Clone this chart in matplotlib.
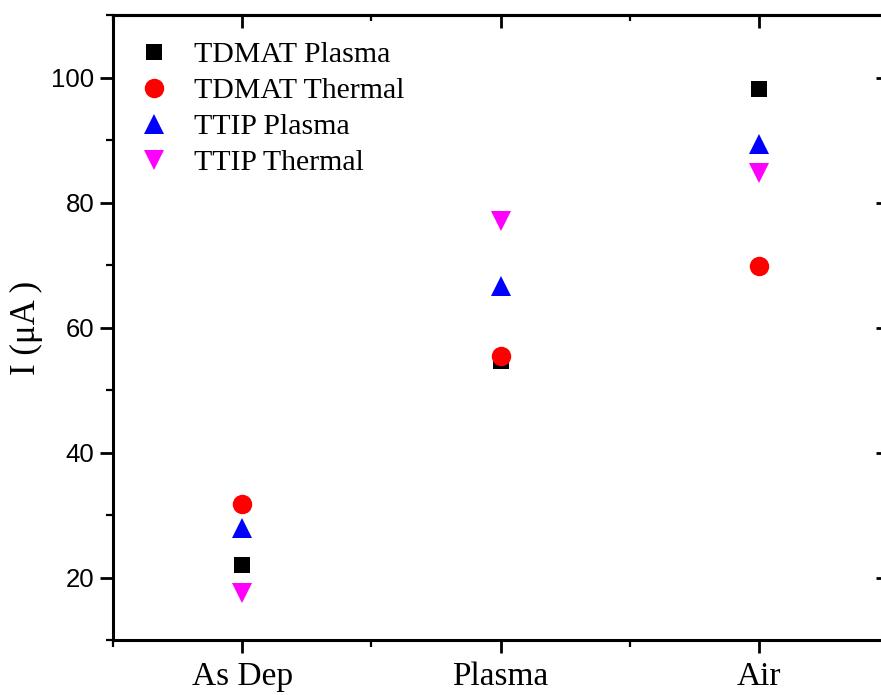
import numpy as np
import matplotlib.pyplot as plt
from matplotlib.ticker import MultipleLocator
plt.switch_backend('agg')

# data
categories = ['As Dep', 'Plasma', 'Air']
tdmat_plasma = [22.0, 54.6, 98.1]
tdmat_thermal = [31.7, 55.5, 69.8]
ttip_plasma = [28.0, 66.6, 89.3]
ttip_thermal = [17.6, 77.1, 84.8]

series = [
    ('TDMAT Plasma', tdmat_plasma, 's', 'black', 12),
    ('TDMAT Thermal', tdmat_thermal, 'o', 'red', 14),
    ('TTIP Plasma', ttip_plasma, '^', 'blue', 15),
    ('TTIP Thermal', ttip_thermal, 'v', 'magenta', 15),
]

serif = ['Liberation Serif', 'DejaVu Serif']
sans = ['Liberation Sans', 'DejaVu Sans']

fig = plt.figure(figsize=(8.81, 6.95), dpi=100)
ax = fig.add_axes([113/881, 55/695, (888-113)/881, (640-15)/695])

x = np.arange(len(categories))
for name, vals, mk, col, ms in series:
    ax.plot(x, vals, linestyle='none', marker=mk, color=col, markersize=ms,
            markeredgewidth=0, label=name)

ax.set_xlim(-0.5, 2.5)
ax.set_ylim(10, 110)
ax.set_xticks(x)
ax.set_xticklabels(categories, fontfamily=serif, fontsize=24)
ax.xaxis.set_minor_locator(MultipleLocator(0.5))
ax.yaxis.set_major_locator(MultipleLocator(20))
ax.yaxis.set_minor_locator(MultipleLocator(10))
for lab in ax.get_yticklabels():
    lab.set_fontfamily(sans)
    lab.set_fontsize(18.5)

for sp in ax.spines.values():
    sp.set_linewidth(2.2)

ax.tick_params(which='major', direction='out', length=9.5, width=2, pad=4)
ax.tick_params(which='minor', direction='out', length=5, width=1.6)
ax.tick_params(axis='x', which='major', pad=6)

# top / right: ticks pointing inward, no labels
top = ax.secondary_xaxis('top')
top.set_xticks(x)
top.xaxis.set_minor_locator(MultipleLocator(0.5))
top.tick_params(which='major', direction='in', length=9, width=2, labeltop=False)
top.tick_params(which='minor', direction='in', length=4, width=1.6)
right = ax.secondary_yaxis('right')
right.yaxis.set_major_locator(MultipleLocator(20))
right.yaxis.set_minor_locator(MultipleLocator(10))
right.tick_params(which='major', direction='in', length=9, width=2, labelright=False)
right.tick_params(which='minor', direction='in', length=4, width=1.6)
for sp in list(top.spines.values()) + list(right.spines.values()):
    sp.set_linewidth(2.2)

ax.set_ylabel('I (\u03bcA )', fontfamily=serif, fontsize=25, labelpad=6)

leg = ax.legend(loc='upper left', frameon=False, prop={'family': serif, 'size': 21.5},
                handletextpad=0.75, labelspacing=0.3, borderaxespad=0.3,
                handlelength=1.2, bbox_to_anchor=(0.003, 0.991))

plt.savefig('out.png', dpi=100)
plt.close('all')
